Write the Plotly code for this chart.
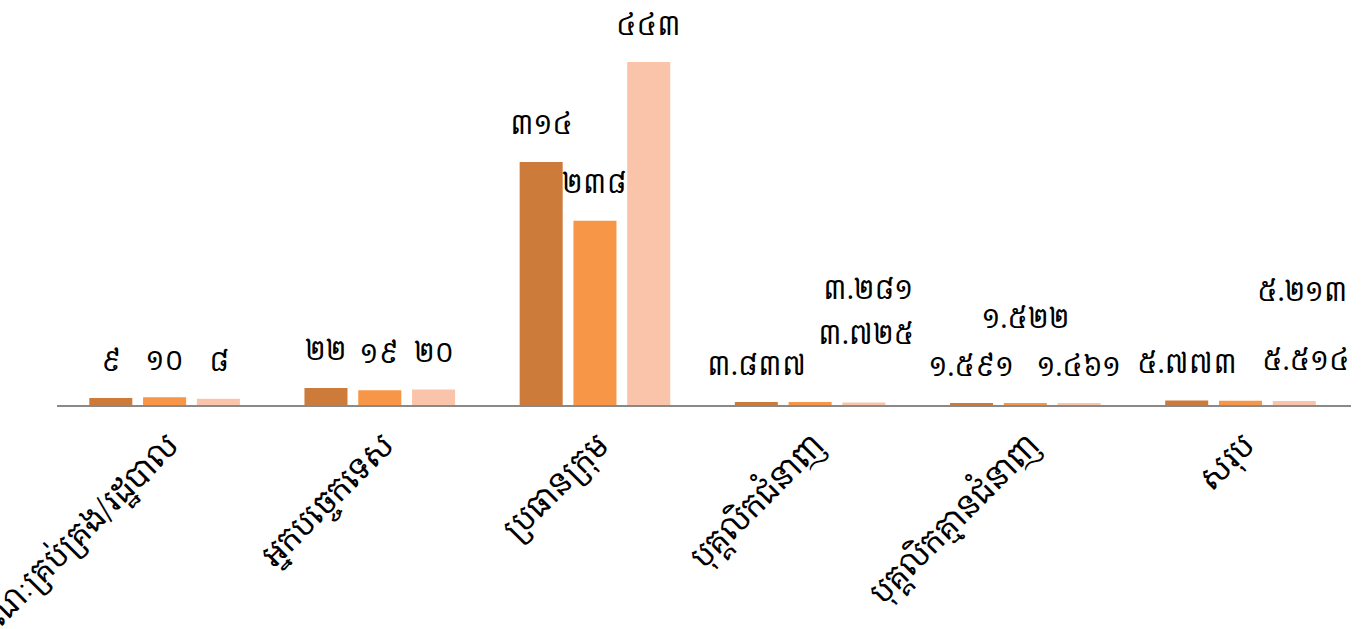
import plotly.graph_objects as go

categories = ["គណៈគ្រប់គ្រង/រដ្ឋបាល", "អ្នកបច្ចេកទេស", "ប្រធានក្រុម",
              "បុគ្គលិកជំនាញ", "បុគ្គលិកគ្មានជំនាញ", "សរុប"]
series1 = [9, 22, 314, 3.837, 1.591, 5.773]
series2 = [10, 19, 238, 3.725, 1.522, 5.514]
series3 = [8, 20, 443, 3.281, 1.461, 5.213]
series_values = [series1, series2, series3]
colors = ["#CD7B3A", "#F79646", "#F9C4AA"]

# manual label displacement (px) as in the original chart: (series index, category index) -> (dx, dy)
label_moves = {
    (1, 3): (56, 31),
    (2, 3): (4, 76),
    (1, 4): (0, 48),
    (1, 5): (65, 3),
    (2, 5): (8, 72),
}

KHMER_DIGITS = str.maketrans("0123456789", "០១២៣៤៥៦៧៨៩")


def khmer_label(v):
    s = str(int(v)) if float(v).is_integer() else f"{v:.3f}"
    return s.translate(KHMER_DIGITS)


KH_FONT = "Khmer OS, Khmer OS System, Noto Serif Khmer, Noto Sans Khmer, Leelawadee UI, DejaVu Sans, sans-serif"

fig = go.Figure()
for i, vals in enumerate(series_values):
    fig.add_trace(go.Bar(
        x=categories, y=vals, marker_color=colors[i],
        marker_line_width=0, showlegend=False, hoverinfo="skip",
    ))

fig.update_layout(
    width=1366, height=629,
    margin=dict(l=57, r=15, t=18, b=224),
    paper_bgcolor="white", plot_bgcolor="white",
    barmode="group", bargap=0.25, bargroupgap=0.2,
    xaxis=dict(showline=True, linecolor="#898989", linewidth=2,
               showgrid=False, ticks="", tickangle=-45,
               ticklabelstandoff=8, ticklabelshift=5,
               tickfont=dict(family=KH_FONT, size=31, color="#000000"),
               automargin=False),
    yaxis=dict(range=[0, 500], visible=False, showgrid=False, zeroline=False),
)

slot = (1366 - 57 - 15) / len(categories) * (1 - 0.25) / 3
for i, vals in enumerate(series_values):
    for j, v in enumerate(vals):
        dx, dy = label_moves.get((i, j), (0, 0))
        fig.add_annotation(
            x=categories[j], y=v, xref="x", yref="y",
            text=khmer_label(v), showarrow=False,
            xshift=(i - 1) * slot + dx, yshift=38 + dy,
            yanchor="middle", xanchor="center",
            font=dict(family=KH_FONT, size=27, color="#000000"),
        )

fig.write_html("out.html", config={"displayModeBar": False},
               post_script="document.body.style.margin='0';")
